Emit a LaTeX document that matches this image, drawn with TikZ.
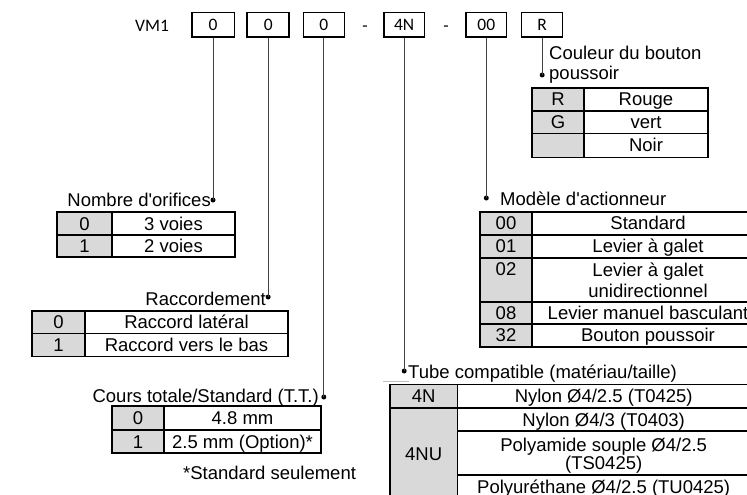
\documentclass[tikz,border=0pt]{standalone}
\usepackage{fontspec}
\setmainfont{Liberation Sans}
\newfontfamily\calib{Carlito}
\definecolor{cellgray}{HTML}{D9D9D9}
\definecolor{conncol}{HTML}{404040}
\begin{document}
\begin{tikzpicture}[x=1pt,y=-1pt,
  codebox/.style={draw=black,line width=1.5pt,minimum height=24.5pt,inner sep=0pt,text height=11.3pt,text depth=0pt,font=\calib\fontsize{17.5}{20}\selectfont},
  codetext/.style={inner sep=0pt,text height=11.3pt,text depth=0pt,font=\calib\fontsize{17.5}{20}\selectfont},
  conn/.style={draw=conncol,line width=1pt},
  dotmark/.style={circle,fill=black,inner sep=0pt,minimum size=5pt},
  tline/.style={draw=black,line width=1.6pt},
  gcell/.style={fill=cellgray},
  txt/.style={inner sep=0pt,text height=13.2pt,text depth=0pt,font=\fontsize{18.5}{21.7}\selectfont,align=center},
  lbl/.style={inner sep=0pt,text height=13.2pt,text depth=0pt,font=\fontsize{18.5}{21.7}\selectfont}
]
\useasboundingbox (0,0) rectangle (747,495);
\clip (0,0) rectangle (747,495);
\fill[white] (0,0) rectangle (747,495);

% ---- code row ----
\node[codetext] (vm) at (152,25.5) {VM1};
\node[codebox,minimum width=42.5pt] (b1) at (213,25) {0};
\node[codebox,minimum width=42pt] (b2) at (268.2,25) {0};
\node[codebox,minimum width=41pt] (b3) at (323.8,25) {0};
\node[codetext] (dash1) at (365,25.5) {-};
\node[codebox,minimum width=40.5pt] (b4) at (404.2,25) {4N};
\node[codetext] (dash2) at (446,25.5) {-};
\node[codebox,minimum width=40.5pt] (b5) at (486.3,25) {00};
\node[codebox,minimum width=41pt] (b6) at (542.2,25) {R};

% ---- dots ----
\node[dotmark] (d1) at (213,200) {};
\node[dotmark] (d2) at (268.2,297) {};
\node[dotmark] (d3) at (323.8,397) {};
\node[dotmark] (d4) at (404.2,371) {};
\node[dotmark] (d5) at (486.3,198) {};
\node[dotmark] (d6) at (542.2,75) {};

% ---- connectors ----
\draw[conn] (b1.south) -- (d1.center);
\draw[conn] (b2.south) -- (d2.center);
\draw[conn] (b3.south) -- (d3.center);
\draw[conn] (b4.south) -- (d4.center);
\draw[conn] (b5.south) -- (d5.center);
\draw[conn] (b6.south) -- (d6.center);

% ---- Table 1: Nombre d'orifices ----
\node[lbl,anchor=east] (l1) at (211,199.5) {Nombre d\textquotesingle orifices};
\fill[gcell] (57,212) rectangle (112,257);
\draw[tline] (57,212) rectangle (235,257);
\draw[tline] (112,212) -- (112,257);
\draw[tline] (57,235) -- (235,235);
\node[txt] (t1a) at (84.5,223.5) {0};
\node[txt] (t1b) at (173.5,223.5) {3 voies};
\node[txt] (t1c) at (84.5,246) {1};
\node[txt] (t1d) at (173.5,246) {2 voies};

% ---- Table 2: Raccordement ----
\node[lbl,anchor=east] (l2) at (266,298.5) {Raccordement};
\fill[gcell] (32,311) rectangle (85,356.5);
\draw[tline] (32,311) rectangle (288,356.5);
\draw[tline] (85,311) -- (85,356.5);
\draw[tline] (32,333.5) -- (288,333.5);
\node[txt] (t2a) at (58.5,322.3) {0};
\node[txt] (t2b) at (186.5,322.3) {Raccord latéral};
\node[txt] (t2c) at (58.5,345) {1};
\node[txt] (t2d) at (186.5,345) {Raccord vers le bas};

% ---- Table 3: Cours totale ----
\node[lbl,anchor=east] (l3) at (319,395.8) {Cours totale/Standard (T.T.)};
\fill[gcell] (112,406) rectangle (164,453);
\draw[tline] (112,406) rectangle (321,453);
\draw[tline] (164,406) -- (164,453);
\draw[tline] (112,430) -- (321,430);
\node[txt] (t3a) at (138,418) {0};
\node[txt] (t3b) at (242.5,418) {4.8 mm};
\node[txt] (t3c) at (138,441.5) {1};
\node[txt] (t3d) at (242.5,441.5) {2.5 mm (Option)*};
\node[lbl,anchor=west] (note) at (183,472.5) {*Standard seulement};

% ---- Table 4: Tube compatible ----
\draw[cellgray!70!gray,line width=0.8pt] (383,381) -- (409,381);
\node[lbl,anchor=west] (l4) at (408,371.7) {Tube compatible (matériau/taille)};
\fill[gcell] (390,384.5) rectangle (457.5,500);
\draw[tline] (390,500) -- (390,384.5) -- (752,384.5) -- (752,500);
\draw[tline] (457.5,384.5) -- (457.5,500);
\draw[tline] (390,407.7) -- (752,407.7);
\draw[tline] (457.5,431) -- (752,431);
\draw[tline] (457.5,475) -- (752,475);
\draw[tline] (390,498) -- (752,498);
\node[txt] (t4a) at (423.7,396.3) {4N};
\node[txt] (t4b) at (603.7,396.3) {Nylon Ø4/2.5 (T0425)};
\node[txt] (t4c) at (423.7,454) {4NU};
\node[txt] (t4d) at (603.7,419.5) {Nylon Ø4/3 (T0403)};
\node[txt,text height=31.7pt] (t4e) at (603.7,453.8) {Polyamide souple Ø4/2.5\\[-3.2pt](TS0425)};
\node[txt] (t4f) at (603.7,487) {Polyuréthane Ø4/2.5 (TU0425)};

% ---- Table 5: Modèle d'actionneur ----
\node[lbl,anchor=west] (l5) at (500,199.3) {Modèle d\textquotesingle actionneur};
\fill[gcell] (480,211.7) rectangle (532,346.7);
\draw[tline] (480,211.7) rectangle (764,346.7);
\draw[tline] (532,211.7) -- (532,346.7);
\draw[tline] (480,235) -- (764,235);
\draw[tline] (480,257.7) -- (764,257.7);
\draw[tline] (480,301.7) -- (764,301.7);
\draw[tline] (480,324) -- (764,324);
\node[txt] (t5a) at (506,223.3) {00};
\node[txt] (t5b) at (648,223.3) {Standard};
\node[txt] (t5c) at (506,246.3) {01};
\node[txt] (t5d) at (648,246.3) {Levier à galet};
\node[txt] (t5e) at (506,269) {02};
\node[txt,text height=34.9pt] (t5f) at (648,280.3) {Levier à galet\\unidirectionnel};
\node[txt] (t5g) at (506,312.8) {08};
\node[txt] (t5h) at (648,312.8) {Levier manuel basculant};
\node[txt] (t5i) at (506,335.3) {32};
\node[txt] (t5j) at (648,335.3) {Bouton poussoir};

% ---- Table 6: Couleur du bouton poussoir ----
\node[lbl,anchor=west] (l6a) at (549,53) {Couleur du bouton};
\node[lbl,anchor=west] (l6b) at (549,73) {poussoir};
\fill[gcell] (532,87.7) rectangle (584,157.3);
\draw[tline] (532,87.7) rectangle (708,157.3);
\draw[tline] (584,87.7) -- (584,157.3);
\draw[tline] (532,111) -- (708,111);
\draw[tline] (532,133.3) -- (708,133.3);
\node[txt] (t6a) at (558,99.3) {R};
\node[txt] (t6b) at (646,99.3) {Rouge};
\node[txt] (t6c) at (558,122.2) {G};
\node[txt] (t6d) at (646,122.2) {vert};
\node[txt] (t6f) at (646,145.3) {Noir};
\end{tikzpicture}
\end{document}
